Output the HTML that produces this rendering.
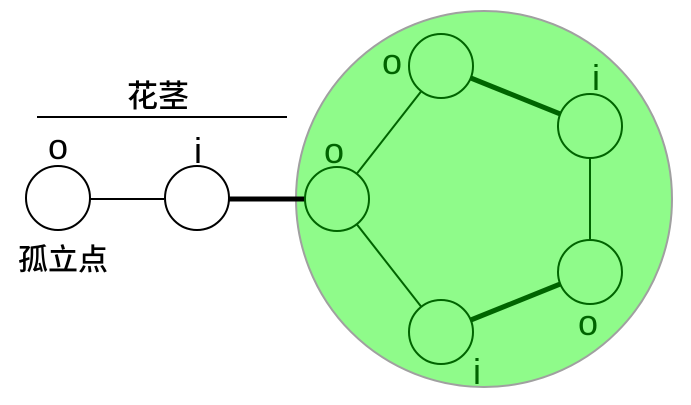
<!DOCTYPE html>
<html><head><meta charset="utf-8"><style>body{margin:0;background:#fff}</style></head><body>
<svg width="691" height="400" xmlns="http://www.w3.org/2000/svg" font-family="Liberation Sans, Noto Sans CJK SC, sans-serif">
<circle cx="484" cy="199" r="188" fill="#8ffb8a" stroke="#a0a0a0" stroke-width="2"/>
<line x1="37" y1="117" x2="287" y2="117" stroke="#000" stroke-width="2"/>
<text x="158" y="107" font-size="31" text-anchor="middle" font-weight="500">花茎</text>
<line x1="90" y1="199" x2="164" y2="199" stroke="#000" stroke-width="2"/>
<line x1="228" y1="199" x2="305" y2="199" stroke="#000" stroke-width="5"/>
<circle cx="58" cy="198" r="32" fill="#fff" stroke="#000" stroke-width="2"/>
<circle cx="197" cy="198" r="32" fill="#fff" stroke="#000" stroke-width="2"/>
<text x="58" y="159" font-size="36" text-anchor="middle">o</text>
<text x="198" y="163" font-size="36" text-anchor="middle">i</text>
<text x="63" y="270" font-size="30" text-anchor="middle" font-weight="500">孤立点</text>
<g stroke="#006400" fill="none">
<line x1="337" y1="199" x2="441" y2="66" stroke-width="2"/>
<line x1="441" y1="66" x2="590" y2="126" stroke-width="5"/>
<line x1="590" y1="126" x2="590" y2="272" stroke-width="2"/>
<line x1="590" y1="272" x2="441" y2="332" stroke-width="5"/>
<line x1="441" y1="332" x2="337" y2="199" stroke-width="2"/>
<circle cx="337" cy="199" r="32" fill="#8ffb8a" stroke-width="2"/>
<circle cx="441" cy="66" r="32" fill="#8ffb8a" stroke-width="2"/>
<circle cx="590" cy="126" r="32" fill="#8ffb8a" stroke-width="2"/>
<circle cx="590" cy="272" r="32" fill="#8ffb8a" stroke-width="2"/>
<circle cx="441" cy="332" r="32" fill="#8ffb8a" stroke-width="2"/>
</g>
<g fill="#006400" font-size="36" text-anchor="middle">
<text x="392" y="74">o</text>
<text x="596" y="90">i</text>
<text x="334" y="163">o</text>
<text x="588" y="335">o</text>
<text x="477" y="384">i</text>
</g>
</svg>
</body></html>
